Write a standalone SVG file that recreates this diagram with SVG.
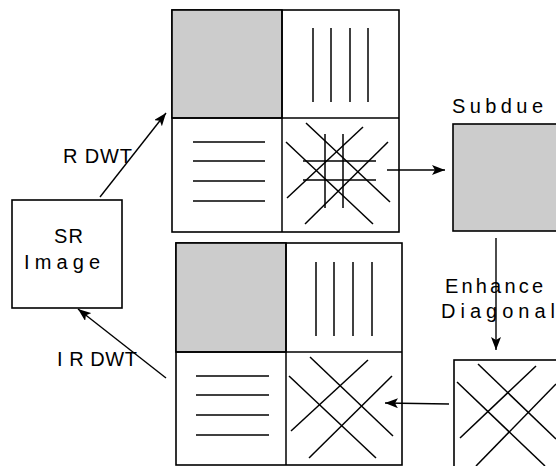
<svg xmlns="http://www.w3.org/2000/svg" width="556" height="466" viewBox="0 0 556 466">
<defs>
<marker id="ah" viewBox="0 0 13 10" refX="13" refY="5" markerWidth="13" markerHeight="10" markerUnits="userSpaceOnUse" orient="auto">
<path d="M0,0 L13,5 L0,10 L3,5 Z" fill="#000"/>
</marker>
</defs>
<style>
.box{fill:#fff;stroke:#000;stroke-width:1.6}
.gray{fill:#ccc;stroke:#000;stroke-width:1.6}
.ln{stroke:#000;stroke-width:1.5;fill:none}
.conn{stroke:#000;stroke-width:1.4;fill:none;marker-end:url(#ah)}
text{font-family:"Liberation Sans",Arial,sans-serif;font-size:20px;fill:#000}
</style>
<rect x="0" y="0" width="556" height="466" fill="#fff"/>

<g id="sr-image">
<rect class="box" x="12" y="200" width="110" height="108"/>
<text x="54" y="243" textLength="29" lengthAdjust="spacing">SR</text>
<text x="24" y="269" textLength="76" lengthAdjust="spacing">Image</text>
</g>

<g id="rdwt-grid">
<rect class="box" x="172" y="10" width="227" height="222"/>
<rect class="gray" x="172" y="10" width="110" height="108"/>
<line class="ln" x1="282" y1="10" x2="282" y2="232"/>
<line class="ln" x1="172" y1="118" x2="399" y2="118"/>
<line class="ln" x1="313" y1="28" x2="313" y2="102"/>
<line class="ln" x1="331" y1="28" x2="331" y2="102"/>
<line class="ln" x1="350" y1="28" x2="350" y2="102"/>
<line class="ln" x1="368" y1="28" x2="368" y2="102"/>
<line class="ln" x1="193" y1="142" x2="265" y2="142"/>
<line class="ln" x1="193" y1="161" x2="265" y2="161"/>
<line class="ln" x1="193" y1="181" x2="265" y2="181"/>
<line class="ln" x1="193" y1="201" x2="265" y2="201"/>
<line class="ln" x1="306" y1="123" x2="390" y2="202"/>
<line class="ln" x1="286" y1="142" x2="373" y2="224"/>
<line class="ln" x1="363" y1="127" x2="287" y2="198"/>
<line class="ln" x1="388" y1="142" x2="305" y2="224"/>
<line class="ln" x1="325" y1="134" x2="325" y2="208"/>
<line class="ln" x1="343" y1="134" x2="343" y2="208"/>
<line class="ln" x1="303" y1="161" x2="376" y2="161"/>
<line class="ln" x1="303" y1="180" x2="376" y2="180"/>
</g>

<g id="subdue">
<text x="452" y="113" textLength="91" lengthAdjust="spacing">Subdue</text>
<rect class="gray" x="453" y="124" width="110" height="107"/>
</g>

<g id="enhanced-diagonal">
<text x="445" y="293" textLength="98" lengthAdjust="spacing">Enhance</text>
<text x="441" y="318" textLength="114" lengthAdjust="spacing">Diagonal</text>
<rect class="box" x="454" y="360" width="110" height="110"/>
<line class="ln" x1="478" y1="364" x2="556" y2="439"/>
<line class="ln" x1="457" y1="382" x2="545" y2="466"/>
<line class="ln" x1="536" y1="366" x2="460" y2="438"/>
<line class="ln" x1="556" y1="384" x2="476" y2="466"/>
</g>

<g id="irdwt-grid">
<rect class="box" x="176" y="243" width="226" height="222"/>
<rect class="gray" x="176" y="243" width="110" height="109"/>
<line class="ln" x1="286" y1="243" x2="286" y2="465"/>
<line class="ln" x1="176" y1="352" x2="402" y2="352"/>
<line class="ln" x1="316" y1="262" x2="316" y2="336"/>
<line class="ln" x1="334" y1="262" x2="334" y2="336"/>
<line class="ln" x1="353" y1="262" x2="353" y2="336"/>
<line class="ln" x1="372" y1="262" x2="372" y2="336"/>
<line class="ln" x1="196" y1="376" x2="269" y2="376"/>
<line class="ln" x1="196" y1="395" x2="269" y2="395"/>
<line class="ln" x1="196" y1="415" x2="269" y2="415"/>
<line class="ln" x1="196" y1="435" x2="269" y2="435"/>
<line class="ln" x1="310" y1="357" x2="393" y2="436"/>
<line class="ln" x1="289" y1="376" x2="376" y2="458"/>
<line class="ln" x1="368" y1="360" x2="291" y2="431"/>
<line class="ln" x1="392" y1="376" x2="309" y2="458"/>
</g>

<g id="connectors">
<line class="conn" x1="100" y1="197" x2="166" y2="113"/>
<line class="conn" x1="387" y1="170" x2="445" y2="170"/>
<line class="conn" x1="496" y1="238" x2="496" y2="350"/>
<line class="conn" x1="449" y1="404" x2="385" y2="403"/>
<line class="conn" x1="166" y1="378" x2="78" y2="309"/>
<text x="63" y="163" textLength="69" lengthAdjust="spacing">R DWT</text>
<text x="57" y="366" textLength="80" lengthAdjust="spacing">I R DWT</text>
</g>
</svg>
